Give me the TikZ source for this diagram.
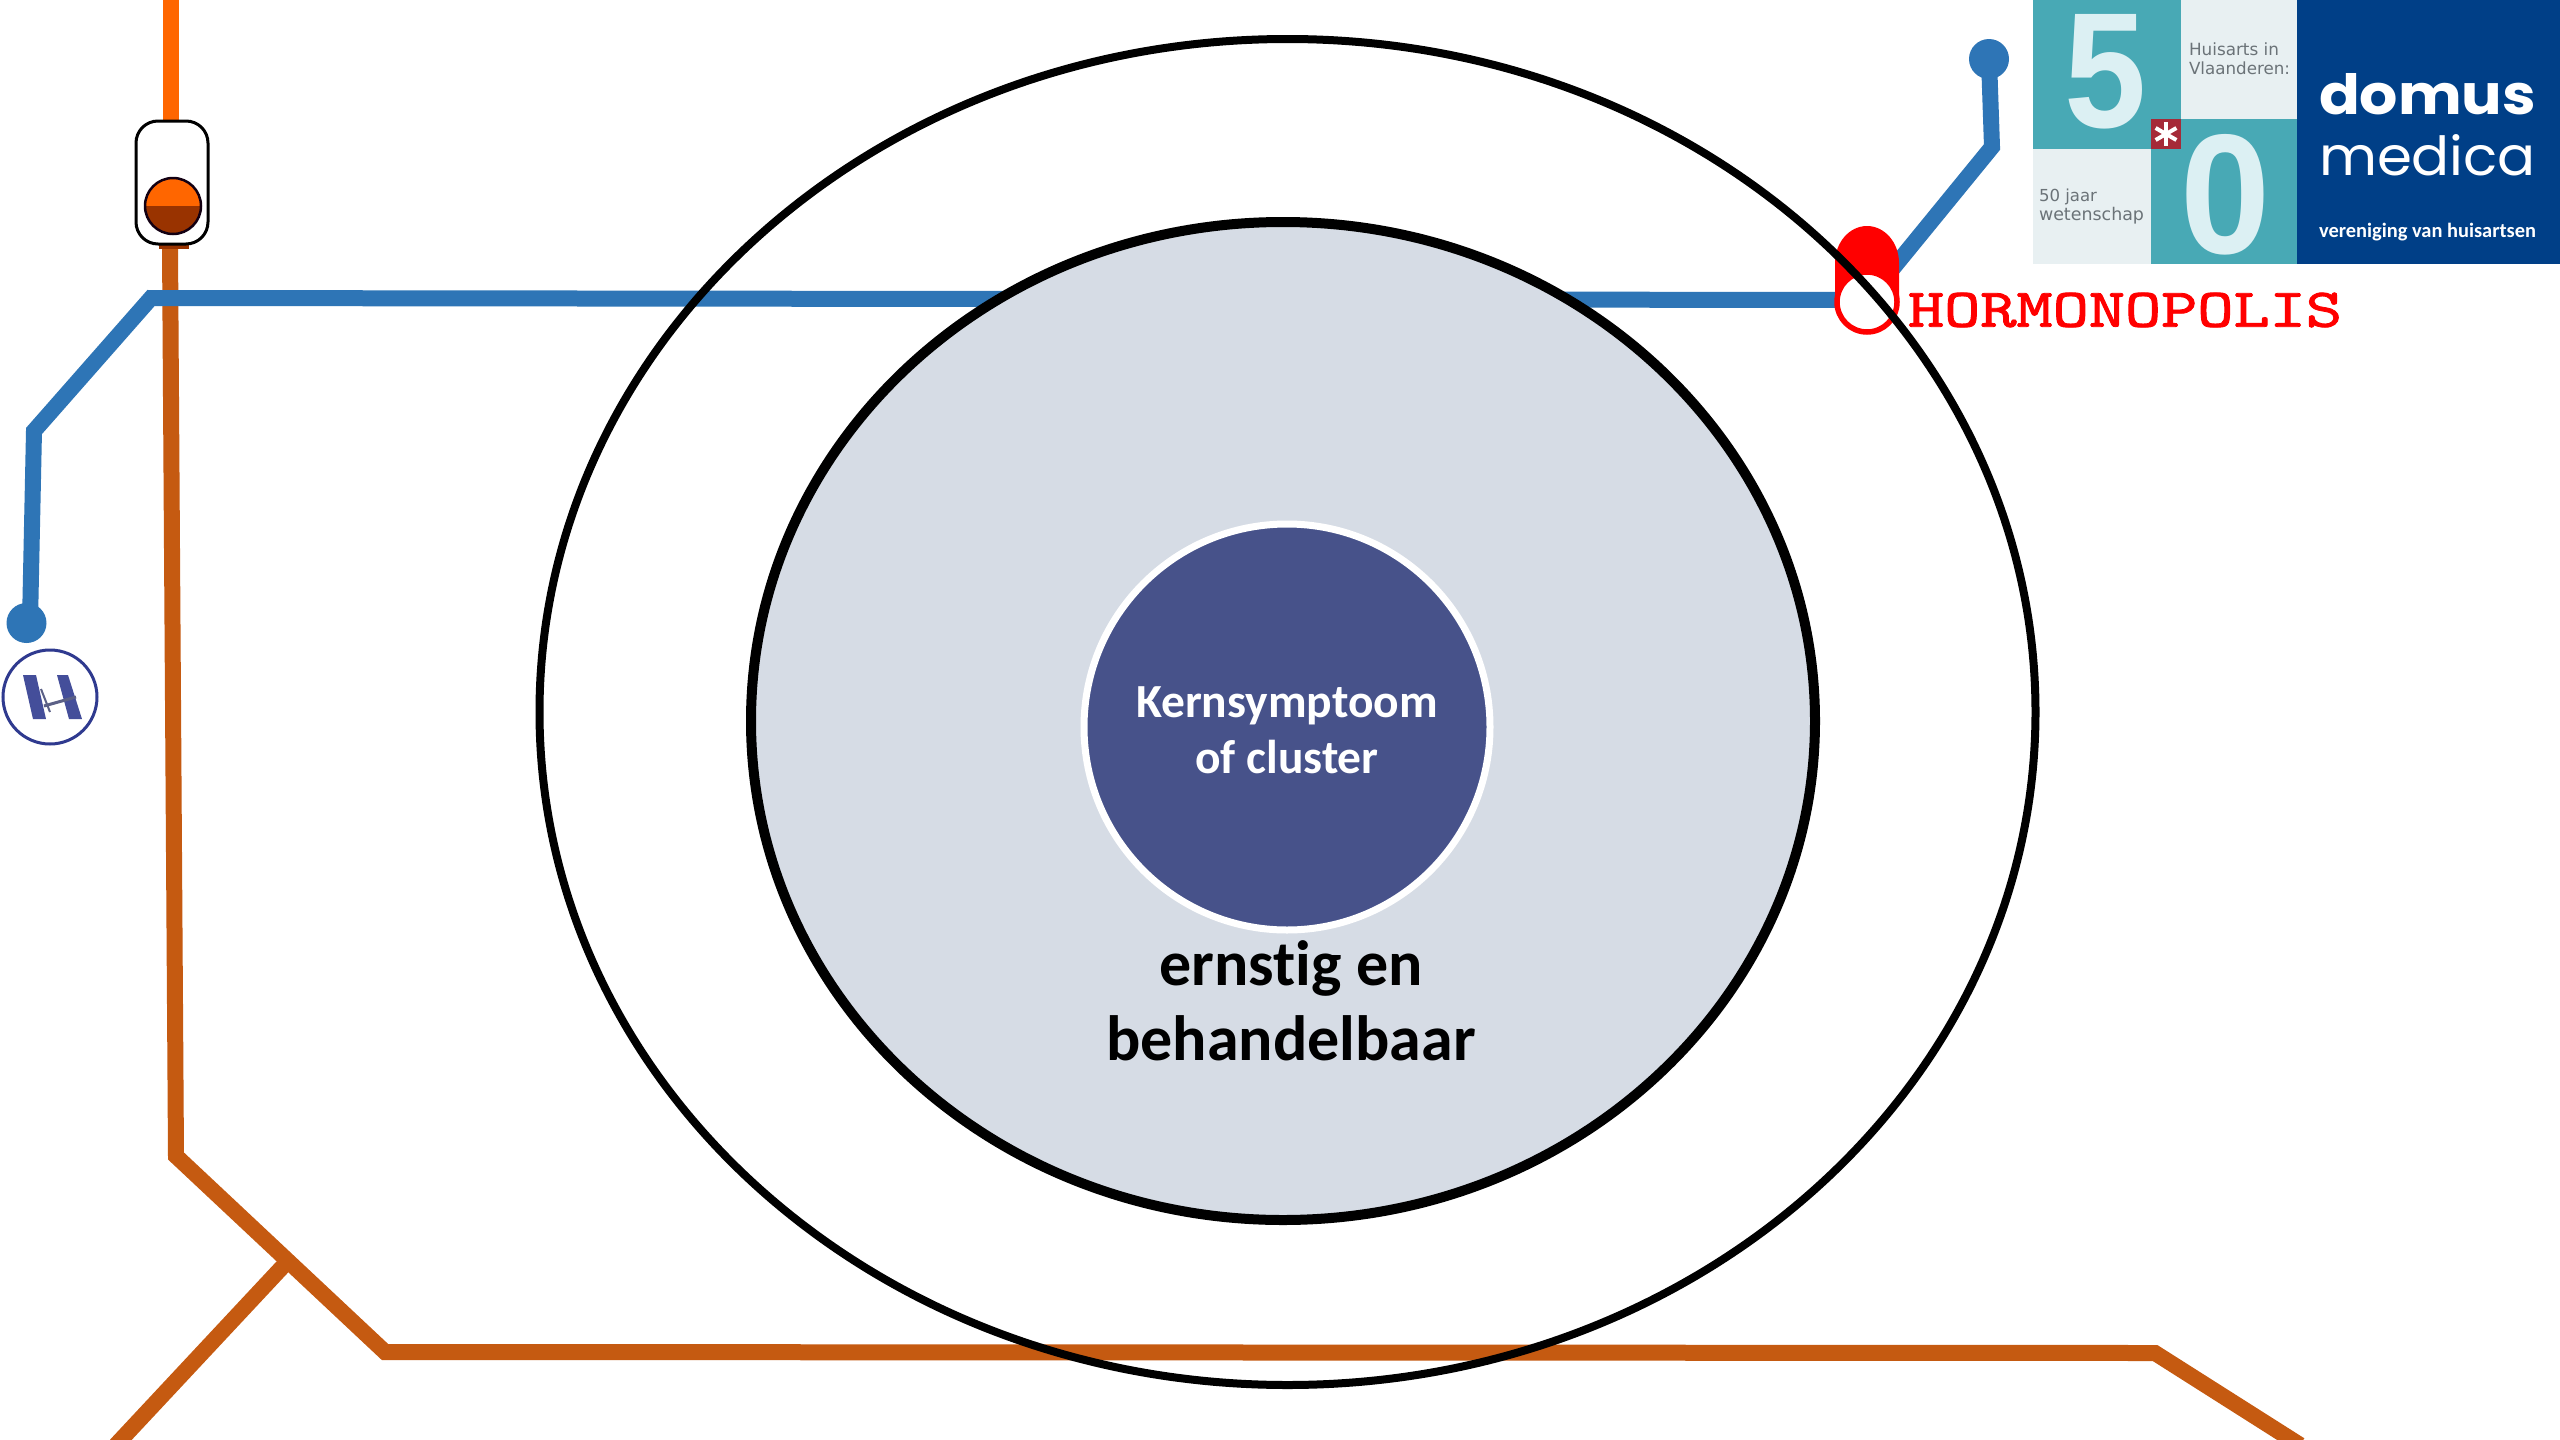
\documentclass[tikz,border=0pt]{standalone}
\usepackage{fontspec}
\usepackage{graphicx}
\setmainfont{Carlito}[Ligatures={NoCommon}]
\newfontfamily\hormofont[FakeBold=1.5]{Latin Modern Mono}
\newfontfamily\logosans{Liberation Sans}
\newfontfamily\logodeja{DejaVu Sans}
\newfontfamily\logopop{Poppins}
\definecolor{linkblue}{HTML}{2E75B6}
\definecolor{metrobrown}{HTML}{C55A11}
\definecolor{metroorange}{HTML}{FF6600}
\definecolor{signalbrown}{HTML}{993300}
\definecolor{paleblue}{HTML}{D6DCE5}
\definecolor{coreblue}{HTML}{47528A}
\definecolor{logoteal}{HTML}{48A9B5}
\definecolor{logopale}{HTML}{E8F0F2}
\definecolor{logodigit}{HTML}{DCF0F3}
\definecolor{logonavy}{HTML}{003F87}
\definecolor{logored}{HTML}{A52A38}
\definecolor{logogrey}{HTML}{6B7378}
\definecolor{hlogo}{HTML}{2F3A8F}
\tikzset{
  metro/.style={line width=16pt,line join=miter,line cap=butt},
  ring/.style={draw=black},
  logotext/.style={inner sep=0pt,outer sep=0pt,text=white},
  logosmall/.style={inner sep=0pt,outer sep=0pt,text=logogrey,anchor=west},
}
\begin{document}
\begin{tikzpicture}[x=1pt,y=-1pt]
\clip (0,0) rectangle (2560,1440);
\fill[white] (0,0) rectangle (2560,1440);
% metro lines
\coordinate (oTop) at (171,-5);
\coordinate (oSig) at (171,125);
\coordinate (bSig) at (170,245);
\coordinate (b1) at (176,1156);
\coordinate (b2) at (385,1352);
\coordinate (b3) at (2155,1353);
\coordinate (b4) at (2300,1445);
\coordinate (bj) at (287,1262);
\coordinate (bs) at (116,1445);
\draw[metro,metroorange] (oTop) -- (oSig);
\draw[metro,metrobrown] (bSig) -- (b1) -- (b2) -- (b3) -- (b4);
\draw[metro,metrobrown] (bj) -- (bs);
\coordinate (l1) at (30,623);
\coordinate (l2) at (34,431);
\coordinate (l3) at (151,298);
\coordinate (l4) at (1867,300);
\coordinate (l5) at (1992,147);
\coordinate (l6) at (1989,59);
\draw[metro,linkblue] (l1) -- (l2) -- (l3) -- (l4) -- (l5) -- (l6);
\fill[linkblue] (26.5,623) circle (20);
\fill[linkblue] (1989,59) circle (20);
% signal
\fill[signalbrown] (159,240) rectangle (189,249);
\draw[fill=white,line width=3pt,rounded corners=22pt] (136,121) rectangle (208,244);
\begin{scope}
\clip (173,206) circle (28);
\fill[metroorange] (140,170) rectangle (210,206);
\fill[signalbrown] (140,206) rectangle (210,240);
\end{scope}
\draw[line width=2.5pt,black!85!violet] (173,206) circle (28);
% H logo
\draw[hlogo,line width=3pt,fill=white] (50,697) circle (47);
\fill[hlogo!90] (23,675) -- (36,675) -- (46,719) -- (33,719) -- cycle;
\fill[hlogo!90] (57,675) -- (68,675) -- (82,719) -- (69,719) -- cycle;
\draw[hlogo!45!gray,line width=3pt] (44,706) -- (76,697);
\draw[hlogo!45!gray,line width=2pt] (41,689) -- (50,712);
% inner rings
\draw[ring,line width=10pt,fill=paleblue] (1283,721) ellipse (532 and 499);
\node[circle,minimum size=406pt,inner sep=0pt,fill=coreblue,draw=white,line width=7pt] (core) at (1287,727) {};
\node[inner sep=0pt,align=center,text=white,font=\bfseries\fontsize{47.5}{56}\selectfont] (coretext) at (1287,730) {Kernsymptoom\\of cluster};
\node[inner sep=0pt,align=center,text=black,font=\bfseries\fontsize{64}{75}\selectfont] (sevtext) at (1291,1001) {ernstig en\\behandelbaar};
% Hormonopolis station
\fill[red] (1835,302) -- (1835,263) arc[start angle=180,end angle=360,x radius=32,y radius=37] -- (1899,302) -- cycle;
\draw[red,line width=5.5pt,fill=white] (1867,302) ellipse (30 and 30);
\node[inner sep=0pt,outer sep=0pt,anchor=west,text=red] (hormo) at (1908,310) {\resizebox{434pt}{34pt}{\hormofont HORMONOPOLIS}};
% outer ring
\draw[ring,line width=8pt] (1287.5,712) ellipse (748 and 673);
% logo
\fill[logopale] (2033,0) rectangle (2297,264);
\fill[logoteal] (2033,0) rectangle (2181,149);
\fill[logoteal] (2151,119) rectangle (2297,264);
\fill[logopale] (2181,0) rectangle (2297,119);
\fill[logonavy] (2297,0) rectangle (2560,264);
\fill[logored] (2151,119) rectangle (2181,149);
\foreach \a in {0,60,120}{\draw[white,line width=4pt,rotate around={\a:(2166,134)}] (2166,122) -- (2166,146);}
\node[inner sep=0pt,text=logodigit] (five) at (2106,71.5) {\resizebox{82pt}{113pt}{\logosans\bfseries 5}};
\node[inner sep=0pt,text=logodigit] (zero) at (2226,194.5) {\resizebox{90pt}{119pt}{\logosans\bfseries 0}};
\node[logosmall] (huis1) at (2189,49) {\resizebox{90pt}{!}{\logodeja Huisarts in}};
\node[logosmall] (huis2) at (2189,68) {\resizebox{101pt}{!}{\logodeja Vlaanderen:}};
\node[logosmall] (jaar1) at (2039,197) {\resizebox{58pt}{!}{\logodeja 50 jaar}};
\node[logosmall] (jaar2) at (2039,216) {\resizebox{105pt}{!}{\logodeja wetenschap}};
\node[logotext,anchor=west] (domus) at (2319,94) {\resizebox{217pt}{41pt}{\logopop\bfseries domus}};
\node[logotext,anchor=west] (medica) at (2319,155) {\resizebox{217pt}{41pt}{\logopop medica}};
\node[logotext,anchor=west] (ver) at (2319,232) {\resizebox{217pt}{!}{\bfseries vereniging van huisartsen}};
\end{tikzpicture}
\end{document}
